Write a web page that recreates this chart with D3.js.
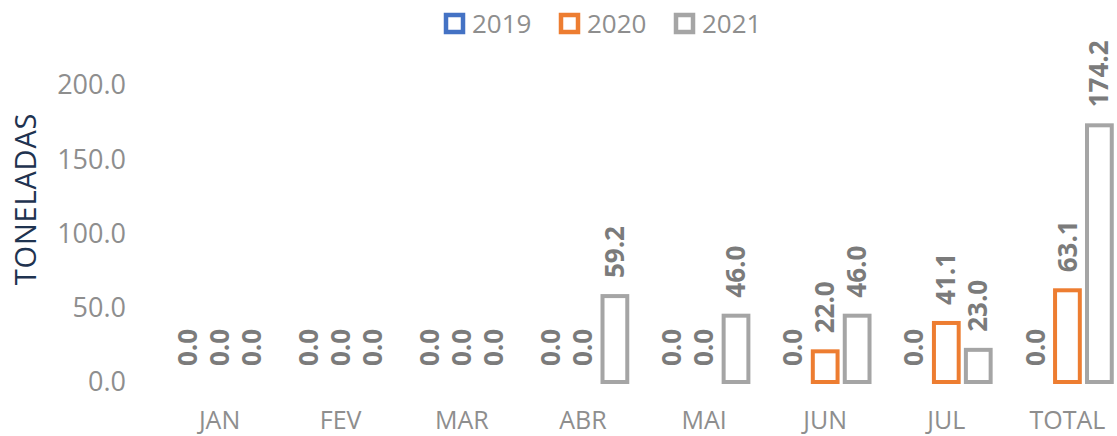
<!DOCTYPE html>
<html>
<head>
    <meta charset="utf-8">
    <title>Toneladas</title>
    <script src="https://d3js.org/d3.v7.min.js"></script>
    <style>
        body { margin: 0; background: #fff; }
        text { font-family: "Open Sans", sans-serif; }
        .tick-label { font-size: 27px; fill: #8e8e8e; }
        .cat-label { font-size: 25px; fill: #8e8e8e; }
        .value-label { font-size: 26px; font-weight: bold; fill: #7b7b7b; }
        .legend-label { font-size: 26px; fill: #8e8e8e; }
        .axis-title { font-size: 29px; fill: #1f3350; letter-spacing: 0.8px; }
    </style>
</head>
<body>
    <div id="chart"></div>
    <script>
        const width = 1117;
        const height = 436;

        const months = ["JAN", "FEV", "MAR", "ABR", "MAI", "JUN", "JUL", "TOTAL"];
        const series = ["2019", "2020", "2021"];
        const colors = ["#4472c4", "#ed7d31", "#a5a5a5"];
        const values2019 = [0, 0, 0, 0, 0, 0, 0, 0];
        const values2020 = [0, 0, 0, 0, 0, 22.0, 41.1, 63.1];
        const values2021 = [0, 0, 0, 59.2, 46.0, 46.0, 23.0, 174.2];
        const yTicks = [0, 50, 100, 150, 200];

        const allValues = [values2019, values2020, values2021];

        const svg = d3.select("#chart")
            .append("svg")
            .attr("width", width)
            .attr("height", height);

        const x = d3.scaleBand()
            .domain(months)
            .range([159, 1128])
            .paddingInner(0.235)
            .paddingOuter(0.1175);

        const x1 = d3.scaleBand()
            .domain(series)
            .range([0, x.bandwidth()])
            .paddingInner(0.1);

        const y = d3.scaleLinear()
            .domain([0, 200])
            .range([382, 85]);

        const color = d3.scaleOrdinal().domain(series).range(colors);

        // eixo y (só rótulos)
        svg.selectAll(".tick-label")
            .data(yTicks)
            .join("text")
            .attr("class", "tick-label")
            .attr("x", 126)
            .attr("y", d => y(d))
            .attr("dy", "0.35em")
            .attr("text-anchor", "end")
            .text(d => d3.format(".1f")(d));

        svg.append("text")
            .attr("class", "axis-title")
            .attr("transform", `translate(36,199) rotate(-90)`)
            .attr("text-anchor", "middle")
            .text("TONELADAS");

        // rótulos do eixo x
        svg.selectAll(".cat-label")
            .data(months)
            .join("text")
            .attr("class", "cat-label")
            .attr("x", d => x(d) + x.bandwidth() / 2)
            .attr("y", 420)
            .attr("dy", "0.35em")
            .attr("text-anchor", "middle")
            .text(d => d);

        const sw = 4;
        const rows = [];
        months.forEach((m, i) => {
            series.forEach((s, j) => {
                rows.push({ month: m, year: s, value: allValues[j][i] });
            });
        });

        // barras só com contorno
        svg.selectAll(".bar")
            .data(rows.filter(d => d.value > 0))
            .join("rect")
            .attr("class", "bar")
            .attr("x", d => x(d.month) + x1(d.year) + sw / 2)
            .attr("y", d => y(d.value) + sw / 2)
            .attr("width", x1.bandwidth() - sw)
            .attr("height", d => y(0) - y(d.value) - sw / 2)
            .style("fill", "none")
            .style("stroke", d => color(d.year))
            .style("stroke-width", sw);

        // rótulos de valor
        svg.selectAll(".value-label")
            .data(rows)
            .join("text")
            .attr("class", "value-label")
            .attr("transform", d => {
                const cx = x(d.month) + x1(d.year) + x1.bandwidth() / 2;
                const cy = y(d.value) - 16;
                return `translate(${cx},${cy}) rotate(-90)`;
            })
            .attr("dy", "0.35em")
            .attr("text-anchor", "start")
            .text(d => d3.format(".1f")(d.value));

        // legenda
        const legend = svg.append("g").attr("transform", "translate(444,0)");
        const item = legend.selectAll(".legend-item")
            .data(series)
            .join("g")
            .attr("class", "legend-item")
            .attr("transform", (d, i) => `translate(${i * 115},0)`);

        item.append("rect")
            .attr("x", 2)
            .attr("y", 15)
            .attr("width", 17)
            .attr("height", 17)
            .style("fill", "none")
            .style("stroke", d => color(d))
            .style("stroke-width", 4.5);

        item.append("text")
            .attr("class", "legend-label")
            .attr("x", 28)
            .attr("y", 24)
            .attr("dy", "0.35em")
            .text(d => d);
    </script>
</body>
</html>
